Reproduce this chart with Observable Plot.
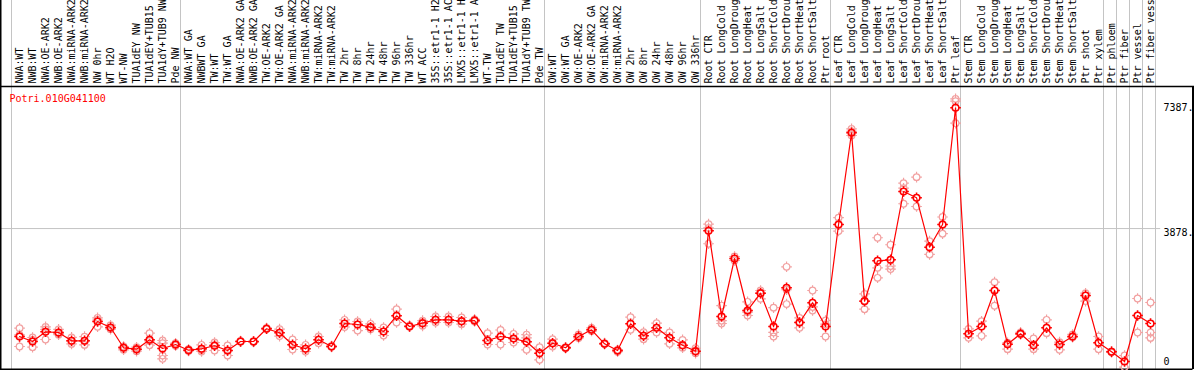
<!DOCTYPE html>
<html><head><meta charset="utf-8">
<script src="https://cdn.jsdelivr.net/npm/d3@7"></script>
<script src="https://cdn.jsdelivr.net/npm/@observablehq/plot@0.6"></script>
<style>body{margin:0;background:#fff}</style>
</head><body><div id="chart"></div>
<script>
const geneId = "Potri.010G041100";
const sampleLabels = [
"NWA:WT","NWB:WT","NWA:OE-ARK2","NWB:OE-ARK2","NWA:miRNA-ARK2","NWB:miRNA-ARK2","NW 0hr","WT H2O","WT-NW","TUA1dEY NW","TUA1dEY+TUB15 NW","TUA1dY+TUB9 NW","Pde NW",
"NWA:WT GA","NWBWT GA","TW:WT","TW:WT GA","NWA:OE-ARK2 GA","NWB:OE-ARK2 GA","TW:OE-ARK2","TW:OE-ARK2 GA","NWA:miRNA-ARK2","NWB:miRNA-ARK2","TW:miRNA-ARK2","TW:miRNA-ARK2","TW 2hr","TW 8hr","TW 24hr","TW 48hr","TW 96hr","TW 336hr","WT ACC","35S::etr1-1 H2O","35S::etr1-1 ACC","LMX5::etr1-1 H2O","LMX5::etr1-1 ACC","WT-TW","TUA1dEY TW","TUA1dEY+TUB15 TW","TUA1dY+TUB9 TW","Pde TW",
"OW:WT","OW:WT GA","OW:OE-ARK2","OW:OE-ARK2 GA","OW:miRNA-ARK2","OW:miRNA-ARK2","OW 2hr","OW 8hr","OW 24hr","OW 48hr","OW 96hr","OW 336hr",
"Root CTR","Root LongCold","Root LongDrought","Root LongHeat","Root LongSalt","Root ShortCold","Root ShortDrought","Root ShortHeat","Root ShortSalt","Ptr root",
"Leaf CTR","Leaf LongCold","Leaf LongDrought","Leaf LongHeat","Leaf LongSalt","Leaf ShortCold","Leaf ShortDrought","Leaf ShortHeat","Leaf ShortSalt","Ptr leaf",
"Stem CTR","Stem LongCold","Stem LongDrought","Stem LongHeat","Stem LongSalt","Stem ShortCold","Stem ShortDrought","Stem ShortHeat","Stem ShortSalt","Ptr shoot","Ptr xylem","Ptr phloem","Ptr fiber","Ptr vessel","Ptr fiber vessel"
];
const meanValues = [
741,596,878,857,616,616,1177,1003,413,372,645,392,509,
343,384,471,334,596,596,965,849,500,384,645,450,1119,1090,1011,886,1343,1032,1128,1226,1226,1186,1206,625,741,683,587,256,
546,413,741,936,529,334,1110,761,994,703,488,314,
3813,1322,3008,1497,1999,1032,2156,1148,1720,1032,
3996,6661,1767,2941,2970,4955,4772,3336,3996,7387,
819,1032,2078,517,819,488,994,509,741,1932,558,296,15,1351,1119
];
const replicateValues = [
[982,450,790],[712,430,640],[1022,654,950],[948,793,830],[717,526,610],[738,497,610],[1284,1023,1220],[1070,953,990],[450,354,430],[430,314,370],[837,488,610],[625,546,189,93],[546,470,510],
[372,320],[500,305,350],[567,334,500],[480,189,330],[596,610],[596,580],[965,990],[956,752],[654,363],[500,305],[741,546],[460,440],[1226,1017],[1177,914],[1110,950],[1003,770],[1536,1148],[1032,1060],[1203,1050],[1322,1148],[1322,1148],[1293,1100],[1240,1180],[837,509],[930,509],[819,567],[798,703,354],[430,64],
[662,450],[430,400],[799,700],[990,900],[550,520],[350,300],[1302,936],[867,664],[1128,858],[858,529],[644,413],[400,256],
[4007,3437,3900],[1641,1119,1200],[3066,2950],[1749,1351,1450],[2078,1837,2000],[1580,858,741],[2767,1684,2100],[1283,994,1150],[2078,1497,1600],[1206,741,1100],
[4193,3806,3996],[6777,6582,6700],[1981,1535,1780],[3610,2738,2447],[3407,2789,2700],[5197,4598,5050],[5371,4519],[3512,3125],[4213,3729],[7649,7580,6940],
[962,703],[1186,761],[2320,1635],[560,373],[860,800],[683,373],[1226,839],[580,355],[800,720],[2000,1770],[741,372],[310,280],[189,-151],[1845,857],[1729,857,700]
];
const groupBreaks = [0,13,41,53,63,73,84,85,86,87,88];
const yTickMain = [0, 7387];
const yTickMid = [3878];

// column i is drawn a little right of its left boundary
const colPos = i => i + 0.62;
const means = meanValues.map((v,i) => ({x: colPos(i), v}));
const reps = replicateValues.flatMap((arr,i) => arr.map(v => ({x: colPos(i), v})));

// circle with four small outward ticks
const sun = {
  draw(ctx, size) {
    const r = Math.sqrt(size / Math.PI);
    ctx.moveTo(r, 0); ctx.arc(0, 0, r, 0, 2 * Math.PI);
    const t = 2;
    ctx.moveTo(0, -r); ctx.lineTo(0, -r - t);
    ctx.moveTo(0, r); ctx.lineTo(0, r + t);
    ctx.moveTo(-r, 0); ctx.lineTo(-r - t, 0);
    ctx.moveTo(r, 0); ctx.lineTo(r + t, 0);
  }
};

const FONT = "DejaVu Sans Mono";
const xLeftEdge = -11/13, xRightEdge = (1192.5-11)/13;
const yTop = 8006, yBottom = -218;

const chart = Plot.plot({
  width: 1194, height: 370,
  marginLeft: 11, marginRight: 39, marginTop: 86, marginBottom: 1,
  style: {fontFamily: FONT, fontSize: "10px", background: "#fff", overflow: "visible"},
  x: {type: "linear", domain: [0, 88]},
  y: {type: "linear", domain: [yBottom, yTop]},
  marks: [
    Plot.ruleX(groupBreaks, {y1: yBottom - 100, y2: yTop + 3000, stroke: "#c4c4c4", strokeWidth: 1}),
    Plot.ruleY(yTickMid, {x1: xLeftEdge, x2: 88.4, stroke: "#c4c4c4", strokeWidth: 1}),
    Plot.ruleY([yTop], {x1: xLeftEdge - 1, x2: xRightEdge + 1, stroke: "#000", strokeWidth: 1.5}),
    Plot.ruleY([yBottom], {x1: xLeftEdge, x2: xRightEdge, stroke: "#000", strokeWidth: 2}),
    Plot.ruleX([xLeftEdge], {y1: yBottom, y2: yTop + 3000, stroke: "#000", strokeWidth: 2}),
    Plot.ruleX([xRightEdge], {y1: yBottom, y2: yTop, stroke: "#000", strokeWidth: 2}),
    Plot.axisX({anchor: "top", ticks: means.map(d => d.x), tickFormat: (d) => sampleLabels[Math.round(d - 0.62)],
      tickRotate: -90, tickSize: 0, tickPadding: 3, fontFamily: FONT, fontSize: 10, fill: "#000", label: null}),
    Plot.axisY({anchor: "right", ticks: yTickMain, tickFormat: d => d === 0 ? "0" : d + ".", tickSize: 0, tickPadding: 8,
      fontFamily: FONT, fontSize: 10, fill: "#000", label: null}),
    Plot.axisY({anchor: "right", ticks: yTickMid, tickFormat: d => d + ".", tickSize: 0, tickPadding: 8, dy: 4,
      fontFamily: FONT, fontSize: 10, fill: "#000", label: null}),
    Plot.dot(reps, {x: "x", y: "v", r: 3.3, symbol: sun, stroke: "#f2a0a0", strokeWidth: 1.2, fill: "none"}),
    Plot.line(means, {x: "x", y: "v", stroke: "#ff0000", strokeWidth: 1.2}),
    Plot.dot(means, {x: "x", y: "v", r: 3.3, symbol: sun, stroke: "#ff0000", strokeWidth: 1.6, fill: "none"}),
    Plot.text([geneId], {frameAnchor: "top-left", lineAnchor: "top", textAnchor: "start", dx: -2, dy: 8,
      fill: "#ff0000", fontFamily: FONT, fontSize: 10})
  ]
});
document.getElementById("chart").appendChild(chart);
</script>
</body></html>
